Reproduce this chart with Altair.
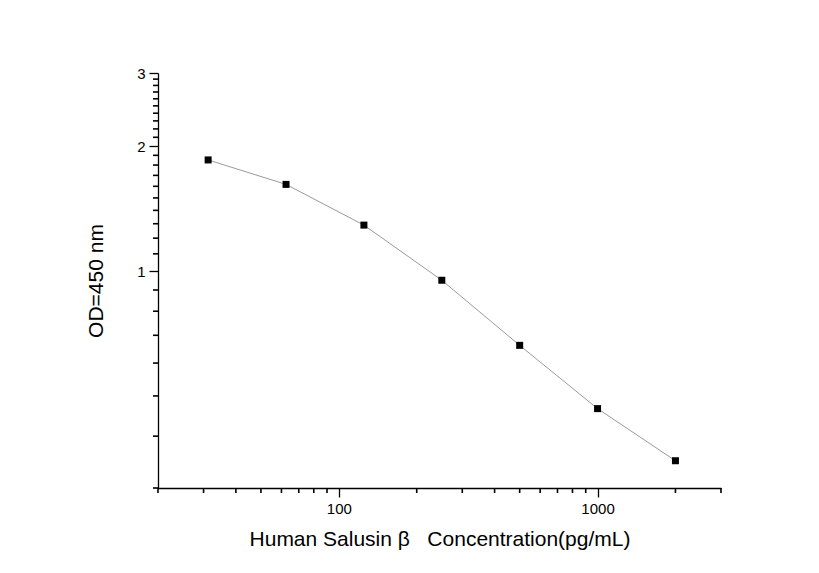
import altair as alt
import pandas as pd

conc = [31.25, 62.5, 125, 250, 500, 1000, 2000]
od = [1.852, 1.617, 1.290, 0.950, 0.662, 0.466, 0.349]

x_major = [100, 1000]
x_minor = [20, 30, 40, 50, 60, 70, 80, 90, 200, 300, 400, 500, 600, 700, 800, 900, 2000, 3000]
y_major = [1, 2, 3]
y_minor = [0.3, 0.4, 0.5, 0.6, 0.7, 0.8, 0.9, 1.1, 1.2, 1.3, 1.4, 1.5, 1.6, 1.7, 1.8, 1.9,
           2.1, 2.2, 2.3, 2.4, 2.5, 2.6, 2.7, 2.8, 2.9]

W, H = 563, 415
df = pd.DataFrame({"conc": conc, "od": od})
xminor_df = pd.DataFrame({"conc": x_minor})
yminor_df = pd.DataFrame({"od": y_minor})

FONT = "Liberation Sans"

common = dict(
    grid=False,
    labelOverlap=False,
    labelFlush=False,
    format="d",
    tickSize=9,
    domainColor="black",
    domainWidth=1.3,
    tickColor="black",
    tickWidth=1.3,
    labelColor="black",
    labelFont=FONT,
    labelFontSize=15,
    labelPadding=4,
    titleFont=FONT,
    titleFontSize=21,
    titleFontWeight="normal",
    titleColor="black",
)

x_axis = alt.Axis(
    values=x_major,
    title="Human Salusin \u03b2\u00a0\u00a0\u00a0Concentration(pg/mL)",
    titlePadding=12,
    **common,
)

y_axis = alt.Axis(
    values=y_major,
    title="OD=450 nm",
    titlePadding=30,
    **common,
)

xscale = alt.Scale(type="log", domain=[20, 3000], nice=False)
yscale = alt.Scale(type="log", domain=[0.3, 3], nice=False)
xs = alt.X("conc:Q", scale=xscale, axis=x_axis)
ys = alt.Y("od:Q", scale=yscale, axis=y_axis)

line = alt.Chart(df).mark_line(color="#9a9a9a", strokeWidth=1).encode(x=xs, y=ys)
pts = alt.Chart(df).mark_point(shape="square", filled=True, color="black", size=49, opacity=1).encode(x=xs, y=ys)

xticks = alt.Chart(xminor_df).mark_rule(color="black", strokeWidth=1.6).encode(
    x=alt.X("conc:Q", scale=xscale, axis=x_axis),
    y=alt.value(H),
    y2=alt.value(H + 5),
)
yticks = alt.Chart(yminor_df).mark_rule(color="black", strokeWidth=1.6).encode(
    y=alt.Y("od:Q", scale=yscale, axis=y_axis),
    x=alt.value(0),
    x2=alt.value(-5),
)

chart = (
    alt.layer(xticks, yticks, line, pts)
    .properties(
        width=W,
        height=H,
        autosize=alt.AutoSizeParams(type="none"),
        padding={"left": 150, "top": 65, "right": 90, "bottom": 77},
        background="white",
    )
    .configure_view(stroke=None)
)

chart.save("out.html", embed_options={"renderer": "svg", "actions": False})
